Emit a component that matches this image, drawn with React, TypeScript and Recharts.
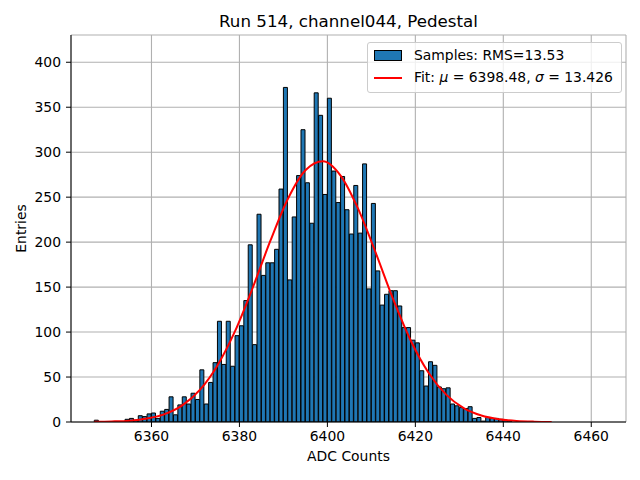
import React from 'react';
import { ComposedChart, Bar, Line, XAxis, YAxis, CartesianGrid } from 'recharts';

// histogram: one bin per ADC count, left edge = binStart + index
const binStart = 6347;
const counts = [
  2, 0, 0, 0, 0, 0, 0, 3, 4, 2,
  7, 6, 9, 10, 4, 12, 14, 28, 8, 19,
  28, 20, 32, 25, 58, 20, 44, 66, 112, 64,
  112, 62, 96, 107, 135, 197, 86, 231, 163, 177,
  177, 192, 259, 372, 158, 228, 274, 325, 266, 221,
  366, 341, 253, 360, 279, 244, 273, 236, 209, 263,
  210, 287, 148, 243, 168, 130, 142, 146, 146, 129,
  105, 105, 91, 88, 57, 40, 67, 63, 39, 37,
  38, 20, 18, 16, 15, 17, 4, 5, 1, 5,
  4, 4, 3, 2, 1,
];

// gaussian fit curve
const fitX = [
  6347, 6351, 6355, 6359, 6363, 6367, 6371, 6375, 6379, 6383, 6387, 6391, 6395, 6399,
  6403, 6407, 6411, 6415, 6419, 6423, 6427, 6431, 6435, 6439, 6443, 6447, 6451,
];
const fitY = [
  0.2, 0.6, 1.5, 3.9, 8.8, 18.5, 35.7, 62.9, 101, 149, 201, 248, 280, 290,
  274, 237, 188, 136, 90, 54.7, 30.4, 15.4, 7.2, 3.1, 1.2, 0.4, 0.1,
];

const xTicks = [6360, 6380, 6400, 6420, 6440, 6460];
const yTicks = [0, 50, 100, 150, 200, 250, 300, 350, 400];
const xDomain: [number, number] = [6341.7, 6467.9];
const yDomain: [number, number] = [0, 430.3];

const font = 'DejaVu Sans, sans-serif';
const tickStyle = { fill: '#000', fontSize: 13.9, fontFamily: font };

const histRows = counts.map((n, i) => ({ x: binStart + i + 0.5, n }));
const fitRows = fitX.map((x, i) => ({ x, y: fitY[i] }));

export default function App() {
  return (
    <div style={{ position: 'absolute', left: 0, top: 0, width: 640, height: 480, background: '#fff', fontFamily: font }}>
      <ComposedChart
        width={640}
        height={480}
        data={histRows}
        margin={{ top: 35, right: 14, bottom: 0, left: 0 }}
        barCategoryGap={0}
        barGap={0}
      >
        <XAxis
          dataKey="x"
          type="number"
          domain={xDomain}
          ticks={xTicks}
          allowDataOverflow
          height={58}
          tick={tickStyle}
          tickSize={5}
          tickMargin={4}
          tickLine={{ stroke: '#000' }}
          axisLine={{ stroke: '#000' }}
          label={{ value: 'ADC Counts', position: 'insideBottom', offset: 19, fill: '#000', fontSize: 13.9, fontFamily: font }}
        />
        <XAxis xAxisId="fit" dataKey="x" type="number" domain={xDomain} allowDataOverflow hide />
        <XAxis
          xAxisId="top"
          orientation="top"
          type="number"
          domain={xDomain}
          height={0}
          tick={false}
          tickLine={false}
          axisLine={{ stroke: '#000' }}
        />
        <YAxis
          type="number"
          domain={yDomain}
          ticks={yTicks}
          allowDataOverflow
          width={71}
          tick={tickStyle}
          tickSize={5}
          tickMargin={5}
          tickLine={{ stroke: '#000' }}
          axisLine={{ stroke: '#000' }}
          label={{ value: 'Entries', angle: -90, position: 'insideLeft', offset: 21, fill: '#000', fontSize: 13.9, fontFamily: font, style: { textAnchor: 'middle' } }}
        />
        <YAxis
          yAxisId="right"
          orientation="right"
          type="number"
          domain={yDomain}
          width={0}
          tick={false}
          tickLine={false}
          axisLine={{ stroke: '#000' }}
        />
        <Bar dataKey="n" fill="#1f77b4" stroke="#000" strokeWidth={1} isAnimationActive={false} />
        <CartesianGrid stroke="#b0b0b0" strokeWidth={1.1} />
        <Line
          xAxisId="fit"
          data={fitRows}
          dataKey="y"
          type="monotone"
          stroke="#ff0000"
          strokeWidth={2}
          dot={false}
          isAnimationActive={false}
        />
      </ComposedChart>

      <div style={{ position: 'absolute', left: 0, width: 697, top: 11, textAlign: 'center', fontSize: 16.7, color: '#000' }}>
        Run 514, channel044, Pedestal
      </div>

      <div
        style={{
          position: 'absolute',
          left: 367,
          top: 42,
          width: 253,
          height: 49,
          background: 'rgba(255,255,255,0.8)',
          border: '1px solid #cccccc',
          borderRadius: 3,
          fontSize: 13.9,
          color: '#000',
        }}
      >
        <div style={{ position: 'absolute', left: 6, top: 7, width: 26, height: 9, background: '#1f77b4', border: '1px solid #000' }} />
        <div style={{ position: 'absolute', left: 46, top: 4, whiteSpace: 'nowrap' }}>Samples: RMS=13.53</div>
        <div style={{ position: 'absolute', left: 6, top: 34, width: 28, height: 2, background: '#ff0000' }} />
        <div style={{ position: 'absolute', left: 46, top: 26, whiteSpace: 'nowrap' }}>
          Fit: <i>μ</i> = 6398.48, <i>σ</i> = 13.426
        </div>
      </div>
    </div>
  );
}
